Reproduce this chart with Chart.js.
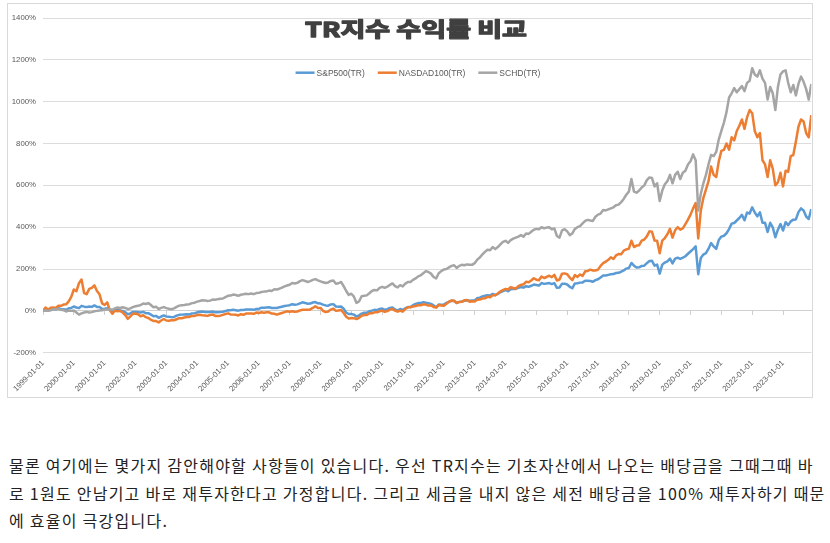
<!DOCTYPE html>
<html><head><meta charset="utf-8">
<script src="https://cdn.jsdelivr.net/npm/chart.js@4.4.1/dist/chart.umd.min.js"></script>
<style>
html,body{margin:0;padding:0;background:#fff;width:830px;height:543px;overflow:hidden}
#box{position:absolute;left:7px;top:3px;width:806px;height:395px;border:1px solid #d9d9d9;box-sizing:border-box}
#wrap{position:absolute;left:0;top:0;width:830px;height:400px}
#para{position:absolute;left:9px;top:452px;font-family:"Noto Sans CJK KR","Noto Sans",sans-serif;font-size:16px;color:#222;line-height:27.7px;letter-spacing:1.25px}
.ln{white-space:nowrap}
</style></head><body>
<div id="box"></div>
<div id="wrap"><canvas id="c" width="830" height="400"></canvas></div>
<div id="para">
<div class="ln">물론 여기에는 몇가지 감안해야할 사항들이 있습니다. 우선 TR지수는 기초자산에서 나오는 배당금을 그때그때 바</div>
<div class="ln">로 1원도 안남기고 바로 재투자한다고 가정합니다. 그리고 세금을 내지 않은 세전 배당금을 100% 재투자하기 때문</div>
<div class="ln">에 효율이 극강입니다.</div>
</div>
<script>
const titleText = 'TR지수 수익률 비교';
const seriesLabels = ['S&P500(TR)', 'NASDAD100(TR)', 'SCHD(TR)'];
const seriesColors = ['#5B9BD5', '#ED7D31', '#A5A5A5'];
const startYear = 1999; // first value = 1999-01-01, then one value per month-end
const tickLabels = ['1999-01-01','2000-01-01','2001-01-01','2002-01-01','2003-01-01','2004-01-01','2005-01-01','2006-01-01','2007-01-01','2008-01-01','2009-01-01','2010-01-01','2011-01-01','2012-01-01','2013-01-01','2014-01-01','2015-01-01','2016-01-01','2017-01-01','2018-01-01','2019-01-01','2020-01-01','2021-01-01','2022-01-01','2023-01-01'];
const yTicks = [-200, 0, 200, 400, 600, 800, 1000, 1200, 1400];

const sp500 = [0,
 5,2,6,10,7,13,9,8,5,12,14,21,
 16,13,24,20,18,21,19,26,19,19,9,10,
 13,3,-4,4,4,2,0,-6,-16,-12,-5,-5,
 -6,-8,-5,-11,-11,-18,-26,-24,-33,-27,-22,-27,
 -28,-30,-29,-23,-19,-18,-17,-16,-17,-12,-11,-7,
 -4,-3,-5,-6,-5,-3,-7,-7,-6,-4,-1,3,
 3,5,3,1,4,4,7,6,7,5,9,9,
 15,15,16,17,14,14,14,17,20,23,25,27,
 32,29,31,36,41,38,34,35,40,42,36,35,
 30,26,25,31,32,21,20,21,10,-9,-15,-15,
 -18,-27,-21,-13,-9,-9,-2,1,5,3,9,11,
 5,8,14,16,7,1,9,4,13,18,18,27,
 33,37,37,41,39,37,33,26,17,30,29,30,
 38,43,48,47,38,43,45,48,51,48,49,50,
 61,63,69,72,75,73,81,75,81,89,94,99,
 94,103,104,105,110,114,111,118,115,120,126,124,
 121,133,129,131,133,128,133,110,112,130,130,126,
 115,108,131,132,135,136,144,144,143,139,147,151,
 160,169,169,172,175,176,181,182,187,193,202,205,
 229,216,207,208,215,216,228,238,239,216,221,178,
 221,231,237,250,227,250,254,248,254,261,273,284,
 295,308,175,253,269,276,297,324,308,296,339,355,
 359,371,391,417,420,432,444,459,433,470,465,495,
 470,452,471,421,421,377,421,399,352,388,415,384,
 424,410,428,436,437,472,490,480,451,439,487];

const nasdaq100 = [0,
 16,6,15,16,14,25,24,30,31,45,67,102,
 94,132,150,85,80,105,110,122,95,79,36,28,
 41,4,-14,1,-2,0,-8,-20,-38,-26,-13,-14,
 -16,-26,-21,-30,-34,-43,-48,-49,-55,-46,-39,-46,
 -47,-45,-45,-40,-35,-35,-32,-29,-29,-24,-24,-20,
 -19,-21,-22,-24,-20,-17,-24,-25,-23,-19,-15,-12,
 -17,-18,-19,-22,-16,-19,-13,-13,-13,-14,-8,-10,
 -7,-9,-7,-7,-13,-14,-18,-14,-10,-6,-2,-4,
 -2,-4,-3,2,5,5,5,7,14,22,14,14,
 0,-6,-3,6,11,0,2,4,-10,-28,-37,-34,
 -35,-39,-33,-23,-20,-20,-12,-12,-7,-7,-2,1,
 -5,-1,6,9,1,-4,1,-4,9,17,17,21,
 23,27,27,31,30,25,27,18,16,28,26,24,
 34,44,50,48,38,42,43,51,52,44,46,45,
 53,54,59,60,67,65,75,75,83,93,99,105,
 102,113,109,106,118,124,127,139,137,145,156,149,
 146,164,157,162,168,161,172,145,150,178,179,175,
 159,147,171,162,174,167,189,191,197,193,193,197,
 215,228,235,244,256,248,265,272,271,288,294,297,
 335,305,312,314,336,341,356,380,378,336,335,275,
 336,348,366,392,350,385,400,388,394,415,436,460,
 490,515,346,480,540,580,620,690,650,640,715,765,
 770,800,770,830,815,860,885,915,870,925,960,945,
 860,830,850,720,700,640,720,680,600,615,660,595,
 670,665,740,745,810,880,915,905,850,830,936];

const schd = [0,
 2,0,3,8,7,9,5,3,-3,2,0,2,
 -8,-18,-12,-8,-5,-8,-6,-2,0,2,3,6,
 7,8,5,12,16,14,17,14,8,12,18,22,
 24,28,35,33,37,28,17,20,9,14,18,13,
 10,8,12,19,25,27,28,30,32,37,39,44,
 47,51,50,47,49,54,53,56,58,59,66,72,
 73,78,76,72,77,79,82,80,83,80,85,86,
 90,92,93,97,95,103,102,106,111,117,121,125,
 133,131,134,142,147,143,138,142,148,152,146,141,
 137,133,136,143,145,130,132,138,118,95,76,82,
 68,38,45,70,72,74,84,95,100,98,110,115,
 110,116,124,131,118,112,123,117,130,138,138,148,
 155,165,170,180,190,186,178,162,155,180,190,198,
 200,208,215,218,205,215,220,218,222,220,220,228,
 245,255,270,282,292,290,305,295,305,318,330,335,
 325,338,345,350,355,362,355,370,368,378,388,392,
 390,400,395,398,400,390,394,358,350,385,390,380,
 362,370,392,400,405,418,430,435,432,430,450,460,
 465,482,480,485,490,495,505,508,520,535,555,570,
 630,570,565,575,590,600,625,638,635,595,610,525,
 575,605,620,650,610,650,665,630,660,670,700,715,
 748,720,480,560,610,650,700,745,740,760,820,860,
 900,950,1020,1040,1065,1045,1060,1075,1050,1090,1100,1160,
 1130,1120,1150,1110,1090,1010,1070,1040,960,1070,1130,1145,
 1150,1090,1045,1080,1030,1085,1120,1095,1060,1010,1085];

const seriesData = [sp500, nasdaq100, schd];
const toPoints = arr => arr.map((v, i) => ({x: startYear + i / 12, y: v}));
const lastX = startYear + (sp500.length - 1) / 12;
const yearTicks = s => { s.ticks = tickLabels.map(t => ({value: parseInt(t.slice(0, 4), 10)})); };
const tickFont = {family: 'Liberation Sans', size: 7.8};

const overlay = {
  id: 'overlay',
  afterDraw(chart) {
    const ctx = chart.ctx;
    ctx.save();
    ctx.translate(416, 29.5);
    ctx.scale(1.32, 1);
    ctx.font = 'bold 20.5px "Noto Sans CJK KR"';
    ctx.textAlign = 'center';
    ctx.textBaseline = 'middle';
    ctx.fillStyle = '#404040';
    ctx.strokeStyle = '#404040';
    ctx.lineWidth = 1.3;
    ctx.lineJoin = 'round';
    ctx.fillText(titleText, 0, 0);
    ctx.strokeText(titleText, 0, 0);
    ctx.restore();

    ctx.save();
    ctx.font = '8.5px "Liberation Sans"';
    ctx.textBaseline = 'middle';
    ctx.textAlign = 'left';
    const ds = chart.data.datasets;
    const widths = ds.map(d => ctx.measureText(d.label).width);
    const lineLen = 19, gap = 2, itemGap = 13;
    let total = widths.reduce((a, w) => a + lineLen + gap + w, 0) + itemGap * (ds.length - 1);
    let x = 418 - total / 2;
    const y = 72.7;
    ds.forEach((d, i) => {
      ctx.strokeStyle = d.borderColor;
      ctx.lineWidth = 2.5;
      ctx.beginPath(); ctx.moveTo(x, y); ctx.lineTo(x + lineLen, y); ctx.stroke();
      ctx.fillStyle = '#595959';
      ctx.fillText(d.label, x + lineLen + gap, y + 0.5);
      x += lineLen + gap + widths[i] + itemGap;
    });
    ctx.restore();
  }
};

new Chart(document.getElementById('c'), {
  type: 'line',
  data: {
    datasets: seriesLabels.map((lab, k) => ({
      label: lab,
      data: toPoints(seriesData[k]),
      borderColor: seriesColors[k],
      backgroundColor: seriesColors[k],
      borderWidth: 2.5,
      pointRadius: 0,
      tension: 0,
      fill: false,
      order: 3 - k,
      borderJoinStyle: 'round',
      xAxisID: 'x'
    }))
  },
  options: {
    responsive: false,
    animation: false,
    devicePixelRatio: 1,
    layout: {padding: {left: 0, right: 18.7, top: 18, bottom: 7.3}},
    plugins: {legend: {display: false}, tooltip: {enabled: false}, title: {display: false}},
    scales: {
      x: {
        type: 'linear', min: startYear, max: lastX,
        afterBuildTicks: yearTicks,
        afterFit: s => { s.height = 40; s.paddingLeft = 0; s.paddingRight = 0; },
        grid: {display: false, drawTicks: false},
        border: {display: false},
        ticks: {autoSkip: false, minRotation: 45, maxRotation: 45, padding: 6, color: '#595959', font: tickFont,
          callback: (v, i) => tickLabels[i]}
      },
      x2: {
        type: 'linear', position: {y: 0}, min: startYear, max: lastX,
        afterBuildTicks: yearTicks,
        afterFit: s => { s.paddingLeft = 0; s.paddingRight = 0; },
        grid: {drawOnChartArea: false, drawTicks: true, tickLength: 4, color: '#d0d0d0'},
        border: {display: true, color: '#d0d0d0', width: 1},
        ticks: {display: false}
      },
      y: {
        min: -200, max: 1400,
        afterBuildTicks: s => { s.ticks = yTicks.map(v => ({value: v})); },
        afterFit: s => { s.width = 43; },
        grid: {color: '#dcdcdc', lineWidth: 1, drawTicks: false},
        border: {display: false},
        ticks: {padding: 7, color: '#595959', font: tickFont, callback: v => v + '%'}
      }
    }
  },
  plugins: [overlay]
});
</script>
</body></html>
